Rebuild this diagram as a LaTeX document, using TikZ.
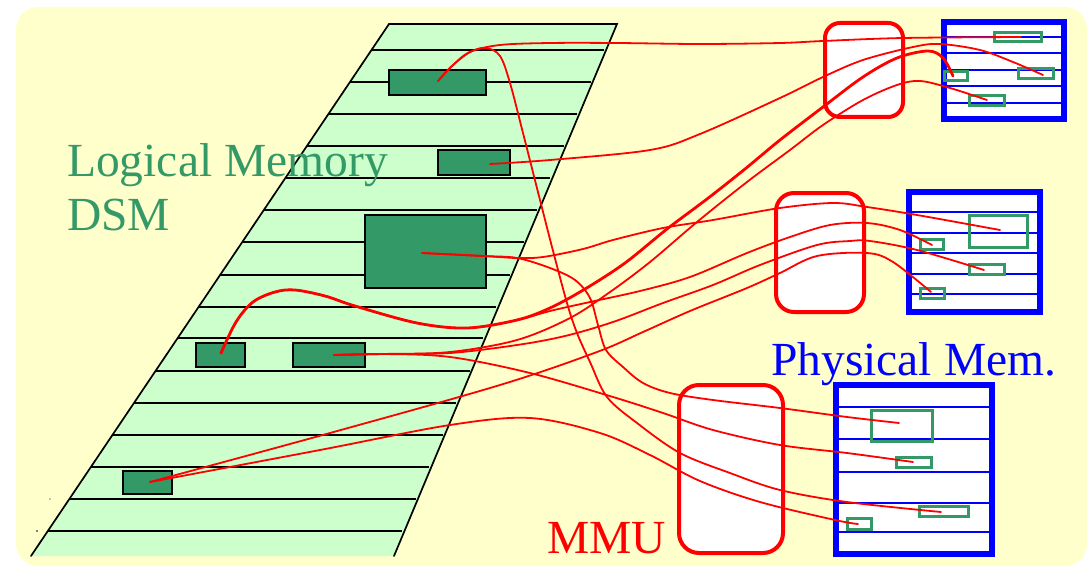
\documentclass[tikz,border=0pt]{standalone}
\usepackage{fontspec}
\setmainfont{Liberation Serif}
\definecolor{paper}{HTML}{FFFFCC}
\definecolor{mint}{HTML}{CCFFCC}
\definecolor{leaf}{HTML}{339966}
\definecolor{wire}{HTML}{FF0000}
\definecolor{frame}{HTML}{0000FF}
\tikzset{
  lbox/.style={draw=black, line width=1.5pt, fill=leaf, inner sep=0pt},
  pbox/.style={draw=leaf, line width=3pt, inner sep=0pt},
  mmubox/.style={draw=wire, line width=4pt, fill=white, inner sep=0pt},
  membox/.style={draw=frame, line width=6pt, fill=white, inner sep=0pt},
  slot/.style={draw=frame, line width=1.6pt},
  rowline/.style={draw=black, line width=1.7pt},
  link/.style={draw=wire, line width=1.8pt, line cap=round, line join=round},
  heavylink/.style={link, line width=2.8pt},
  label/.style={inner sep=0pt, anchor=base west, font=\fontsize{47.5}{57}\selectfont}
}
\begin{document}
\begin{tikzpicture}[x=1pt, y=-1pt]
\useasboundingbox (0,0) rectangle (1092,567);
\fill[white] (0,0) rectangle (1092,567);
\fill[paper, rounded corners=22pt] (16,7) rectangle (1087,566);

% logical memory strip
\coordinate (tl) at (389,24);
\coordinate (tr) at (617,24);
\coordinate (br) at (394,556);
\coordinate (bl) at (31,556);
\fill[mint] (tl) -- (tr) -- (br) -- (bl) -- cycle;
\foreach \y in {50,82,114,146,178,210,242,275,307,338,371,403,435,467,499,531}{
  \pgfmathsetmacro\xl{389-(358/532)*(\y-24)}
  \pgfmathsetmacro\xr{617-(223/532)*(\y-24)-2}
  \draw[rowline] (\xl,\y) -- (\xr,\y);
}
\draw[rowline, line cap=round] (bl) -- (tl) -- (tr) -- (br);
\fill (50,499) circle (0.6pt);
\fill (37,531) circle (0.9pt);

\node[label, text=leaf] (lm) at (67,176) {Logical Memory};
\node[label, text=leaf] (dsm) at (67,230) {DSM};

% pages in logical memory
\node[lbox, minimum width=97pt, minimum height=25pt] (A) at (437.5,82.5) {};
\node[lbox, minimum width=72pt, minimum height=25pt] (B) at (474,162.5) {};
\node[lbox, minimum width=121pt, minimum height=73pt] (C) at (425.5,251.5) {};
\node[lbox, minimum width=49pt, minimum height=24pt] (D) at (220.5,355) {};
\node[lbox, minimum width=72pt, minimum height=24pt] (E) at (329,355) {};
\node[lbox, minimum width=49pt, minimum height=23pt] (F) at (147.5,482.5) {};

% MMUs
\node[mmubox, rounded corners=15pt, minimum width=78pt, minimum height=94pt] (mmu1) at (864,70) {};
\node[mmubox, rounded corners=18pt, minimum width=88pt, minimum height=119pt] (mmu2) at (820,252.5) {};
\node[mmubox, rounded corners=20pt, minimum width=104pt, minimum height=168pt] (mmu3) at (731,469) {};
\node[label, text=wire] (mmu) at (547,553) {MMU};

% physical memories
\node[membox, minimum width=120pt, minimum height=97pt] (P1) at (1004,70.5) {};
\foreach \y in {37,53,70,86,103} \draw[slot] (947,\y) -- (1061,\y);
\node[membox, minimum width=131pt, minimum height=120pt] (P2) at (974.5,252) {};
\foreach \y in {212,233,253,274,294} \draw[slot] (912,\y) -- (1037,\y);
\node[membox, minimum width=156pt, minimum height=169pt] (P3) at (914,469.5) {};
\foreach \y in {407,439,472,503,532} \draw[slot] (839,\y) -- (989,\y);
\node[label, text=frame] (pm) at (771,375) {Physical Mem.};

% frames in physical memory
\node[pbox, minimum width=47pt, minimum height=9pt] (P1a) at (1018,37) {};
\node[pbox, minimum width=23pt, minimum height=9pt] (P1b) at (956,76) {};
\node[pbox, minimum width=35pt, minimum height=10pt] (P1c) at (1036,73.5) {};
\node[pbox, minimum width=35pt, minimum height=10pt] (P1d) at (987,100.5) {};
\node[pbox, minimum width=58pt, minimum height=32pt] (P2a) at (998.5,231.5) {};
\node[pbox, minimum width=23pt, minimum height=10pt] (P2b) at (932,244.5) {};
\node[pbox, minimum width=35pt, minimum height=10pt] (P2c) at (987,269.5) {};
\node[pbox, minimum width=24pt, minimum height=10pt] (P2d) at (932.5,293.5) {};
\node[pbox, minimum width=61pt, minimum height=31pt] (P3a) at (902,426) {};
\node[pbox, minimum width=35pt, minimum height=10pt] (P3b) at (914,462.5) {};
\node[pbox, minimum width=49pt, minimum height=10pt] (P3c) at (944,511.5) {};
\node[pbox, minimum width=24pt, minimum height=11pt] (P3d) at (859.5,524) {};

% wire ends
\coordinate (sA) at (438,81);
\coordinate (sB) at (490,164);
\coordinate (sC) at (422,253);
\coordinate (sD) at (221,353);
\coordinate (sE) at (334,355);
\coordinate (sF) at (150,482);
\coordinate (t1a) at (1021,37);
\coordinate (t1b) at (953,76);
\coordinate (t1c) at (1043,75);
\coordinate (t1d) at (987,100);
\coordinate (t2a) at (1000,230);
\coordinate (t2b) at (932,245);
\coordinate (t2c) at (984,270);
\coordinate (t2d) at (931,292);
\coordinate (t3a) at (899,423);
\coordinate (t3b) at (913,462);
\coordinate (t3c) at (941,512);
\coordinate (t3d) at (858,524);

% mappings
\draw[link] plot[smooth, tension=0.55] coordinates {(sA) (452,66) (470,52) (500,45) (550,43) (617,43) (700,44) (780,43) (823,41) (903,38) (t1a)};
\draw[link] plot[smooth, tension=0.55] coordinates {(sA) (452,66) (470,52) (486,48) (500,56) (510,83) (523,133) (540,200) (552,247) (567,303) (577,333) (590,362) (607,397) (637,423) (680,453) (730,473) (780,490) (847,502) (t3c)};
\draw[link] plot[smooth, tension=0.55] coordinates {(sB) (550,160) (650,150) (700,134) (780,98) (823,77) (863,60) (913,47) (940,44) (980,50) (1013,62) (t1c)};
\draw[link] plot[smooth, tension=0.55] coordinates {(sC) (483,256) (517,258) (543,257) (583,249) (613,240) (663,228) (713,220) (780,208) (833,203) (867,207) (917,215) (t2a)};
\draw[link] plot[smooth, tension=0.55] coordinates {(sC) (483,256) (517,258) (550,268) (575,280) (590,298) (598,325) (606,350) (623,367) (643,383) (670,393) (713,400) (780,408) (847,417) (t3a)};
\draw[heavylink] plot[smooth, tension=0.55] coordinates {(sD) (236,322) (253,302) (275,292) (295,290) (325,296) (355,306) (417,323) (467,328) (517,320) (550,308) (585,289) (625,263) (667,229) (707,199) (745,169) (780,140) (823,107) (863,77) (897,58) (928,51) (943,58) (t1b)};
\draw[link] plot[smooth, tension=0.55] coordinates {(sD) (236,322) (253,302) (275,292) (295,290) (325,296) (355,306) (417,323) (467,328) (517,320) (550,311) (590,302) (640,291) (690,277) (747,253) (790,237) (830,225) (867,223) (900,230) (t2b)};
\draw[link] plot[smooth, tension=0.55] coordinates {(sE) (383,354) (450,352) (517,340) (570,318) (610,292) (650,262) (697,222) (747,182) (790,150) (823,125) (863,100) (897,85) (920,81) (950,88) (t1d)};
\draw[link] plot[smooth, tension=0.55] coordinates {(sE) (383,354) (450,353) (517,345) (565,336) (613,322) (663,303) (713,285) (760,265) (817,245) (850,241) (870,241) (917,250) (t2c)};
\draw[link] plot[smooth, tension=0.55] coordinates {(sE) (383,354) (450,357) (530,373) (613,397) (663,413) (713,430) (780,445) (847,453) (t3b)};
\draw[link] plot[smooth, tension=0.55] coordinates {(sF) (330,433) (500,385) (597,352) (643,332) (690,311) (747,288) (780,273) (817,256) (867,253) (893,262) (t2d)};
\draw[link] plot[smooth, tension=0.55] coordinates {(sF) (320,450) (450,425) (530,418) (600,433) (650,455) (700,481) (760,502) (835,520) (t3d)};
\end{tikzpicture}
\end{document}
